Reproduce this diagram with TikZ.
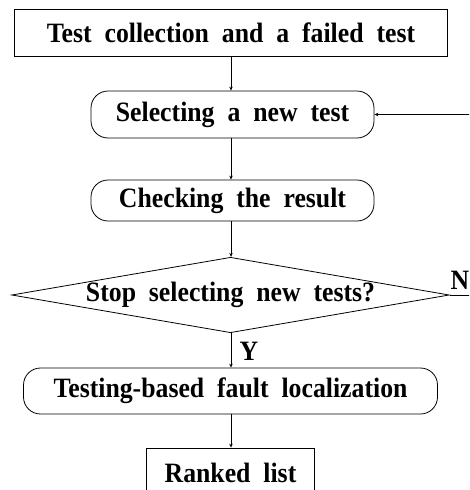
\documentclass[tikz,border=0pt]{standalone}
\usepackage{fontspec}
\setmainfont[FakeStretch=0.92,WordSpace=2.0]{Liberation Serif}
\usetikzlibrary{shapes.geometric,arrows.meta}
\begin{document}
\begin{tikzpicture}[x=1pt,y=-1pt,
  every node/.style={font=\fontsize{28}{32}\selectfont\bfseries, inner sep=0pt},
  rectbox/.style={draw, line width=0.8pt, minimum height=47pt},
  roundbox/.style={draw, line width=0.8pt, rounded corners=17pt, minimum height=47pt},
  decision/.style={draw, line width=0.8pt, diamond, aspect=5.8, minimum width=434pt, minimum height=75pt},
  conn/.style={line width=0.7pt, -{Stealth[length=4pt,width=3.5pt]}},
  lbl/.style={}]
\useasboundingbox (0,0) rectangle (469,490);
\clip (0,0) rectangle (469,490);
\node[rectbox, minimum width=433pt] (start) at (231,32.5) {Test collection and a failed test};
\node[roundbox, minimum width=283pt] (sel) at (232.5,114.5) {Selecting a new test};
\node[roundbox, minimum width=283pt, minimum height=41pt] (chk) at (232.5,200.5) {Checking the result};
\node[decision] (dec) at (230.5,295) {Stop selecting new tests?};
\node[roundbox, minimum width=414pt, minimum height=46pt] (loc) at (230.5,391) {Testing-based fault localization};
\node[rectbox, minimum width=168pt, minimum height=50pt] (rank) at (230.5,473) {Ranked list};
\node[lbl] (n) at (460,280) {N};
\node[lbl] (y) at (249,351.5) {Y};
\coordinate (r1) at (471,295);
\coordinate (r2) at (471,114.5);
\draw[conn] (start.south -| 231,0) -- (231,0 |- sel.north);
\draw[conn] (231,0 |- sel.south) -- (231,0 |- chk.north);
\draw[conn] (231,0 |- chk.south) -- (dec.north -| 231,0);
\draw[conn] (dec.south -| 231,0) -- (231,0 |- loc.north);
\draw[conn] (231,0 |- loc.south) -- (231,0 |- rank.north);
\draw[conn] (dec.east) -- (r1) -- (r2) -- (sel.east);
\end{tikzpicture}
\end{document}
